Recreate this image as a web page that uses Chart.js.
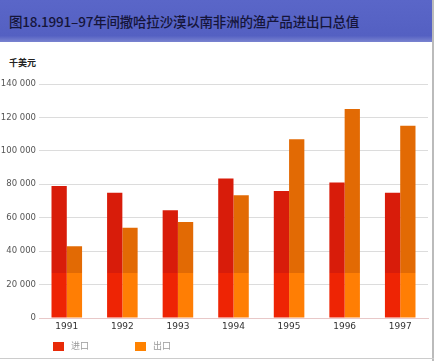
<!DOCTYPE html>
<html lang="zh">
<head>
    <meta charset="UTF-8">
    <title>渔产品进出口总值</title>
    <script src="https://cdn.jsdelivr.net/npm/chart.js"></script>
    <style>
        body {
            margin: 0;
            width: 434px;
            height: 361px;
            position: relative;
            background: #fff;
            font-family: "Noto Sans CJK SC", "Noto Sans", sans-serif;
            overflow: hidden;
        }
        .band {
            position: absolute;
            left: 0; top: 0;
            width: 434px; height: 42px;
            background: linear-gradient(#5a66c8, #5460c2 85%, #7a84d0);
        }
        .band h1 {
            margin: 0;
            position: absolute;
            left: 9px; top: 11px;
            font-size: 13.5px;
            font-weight: 500;
            color: #15153a;
            letter-spacing: -0.2px;
        }
        .unit {
            position: absolute;
            left: 9px; top: 56px;
            font-size: 9px;
            font-weight: bold;
            color: #222;
        }
        #chart { position: absolute; left: 0; top: 0; }
        .legend {
            position: absolute;
            top: 339px;
            font-size: 9px;
            color: #999;
        }
        .legend span {
            display: inline-block;
            width: 11px; height: 9px;
            vertical-align: middle;
            margin-right: 7px;
        }
        .edge-r { position: absolute; right: 0; top: 0; width: 2px; height: 361px; background: #bbb; }
        .edge-b { position: absolute; left: 0; top: 358px; width: 434px; height: 1px; background: #ccc; }
    </style>
</head>
<body>
    <div class="band"><h1>图18.1991–97年间撒哈拉沙漠以南非洲的渔产品进出口总值</h1></div>
    <div class="unit">千美元</div>
    <canvas id="chart" width="434" height="361"></canvas>
    <div class="legend" style="left:53px"><span style="background:#e82a08"></span>进口</div>
    <div class="legend" style="left:135px"><span style="background:#ff8200"></span>出口</div>
    <div class="edge-r"></div>
    <div class="edge-b"></div>

    <script>
        const years = ["1991", "1992", "1993", "1994", "1995", "1996", "1997"];
        const imports = [79000, 75000, 64500, 83500, 76000, 81000, 75000];
        const exports = [43000, 54000, 57500, 73500, 107000, 125000, 115000];
        const yTicks = [0, 20000, 40000, 60000, 80000, 100000, 120000, 140000];

        // the scan has a lighter band at the foot of every bar
        function banded(light, dark) {
            return function (ctx) {
                const chart = ctx.chart;
                const area = chart.chartArea;
                if (!area) return dark;
                const cut = chart.scales.y.getPixelForValue(27000);
                const r = (area.bottom - cut) / (area.bottom - area.top);
                const g = chart.ctx.createLinearGradient(0, area.bottom, 0, area.top);
                g.addColorStop(0, light);
                g.addColorStop(r, light);
                g.addColorStop(r, dark);
                g.addColorStop(1, dark);
                return g;
            };
        }

        new Chart(document.getElementById("chart"), {
            type: "bar",
            data: {
                labels: years,
                datasets: [
                    { label: "进口", data: imports, backgroundColor: banded("#ee2404", "#d81c0a") },
                    { label: "出口", data: exports, backgroundColor: banded("#ff7e04", "#e26a04") }
                ]
            },
            options: {
                responsive: false,
                animation: false,
                categoryPercentage: 0.55,
                barPercentage: 1.0,
                layout: { padding: { top: 84, left: 0, right: 6, bottom: 23 } },
                plugins: { legend: { display: false }, tooltip: { enabled: false } },
                scales: {
                    x: {
                        grid: { display: false, drawTicks: false },
                        border: { color: "#e8c8c8" },
                        ticks: { color: "#333", font: { family: "DejaVu Sans", size: 9 }, padding: 3 },
                        afterFit: s => { s.height = 20; }
                    },
                    y: {
                        min: 0,
                        max: 140000,
                        afterBuildTicks: s => { s.ticks = yTicks.map(v => ({ value: v })); },
                        grid: { color: "#dcdcdc", drawTicks: false },
                        border: { display: false },
                        ticks: {
                            color: "#555",
                            font: { family: "DejaVu Sans", size: 8.5 },
                            padding: 3,
                            callback: v => String(v).replace(/\B(?=(\d{3})+(?!\d))/g, " ")
                        },
                        afterFit: s => { s.width = 39; }
                    }
                }
            }
        });
    </script>
</body>
</html>
